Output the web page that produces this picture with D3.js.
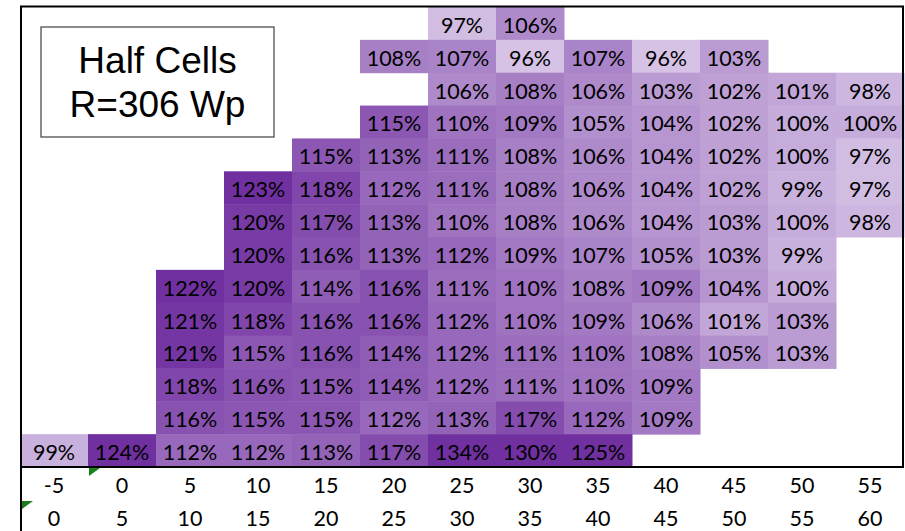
<!DOCTYPE html>
<html>
<head>
<meta charset="utf-8">
<script src="https://cdn.jsdelivr.net/npm/d3@7"></script>
<style>
  body { margin: 0; background: #fff; }
  .cell-label, .axis text { font-family: Lato, "Open Sans", sans-serif; font-size: 21.5px; fill: #000; }
  .title { font-family: "Liberation Sans", Arial, sans-serif; font-size: 37px; fill: #000; }
</style>
</head>
<body>
<div class="svg-container"></div>
<script>
// column bins (lower / upper bound)
const binLow = [-5, 0, 5, 10, 15, 20, 25, 30, 35, 40, 45, 50, 55];
const binHigh = [0, 5, 10, 15, 20, 25, 30, 35, 40, 45, 50, 55, 60];

// ratio in %, one array per row, top to bottom (null = empty cell)
const ratios = [
  [null, null, null, null, null, null, 97, 106, null, null, null, null, null],
  [null, null, null, null, null, 108, 107, 96, 107, 96, 103, null, null],
  [null, null, null, null, null, null, 106, 108, 106, 103, 102, 101, 98],
  [null, null, null, null, null, 115, 110, 109, 105, 104, 102, 100, 100],
  [null, null, null, null, 115, 113, 111, 108, 106, 104, 102, 100, 97],
  [null, null, null, 123, 118, 112, 111, 108, 106, 104, 102, 99, 97],
  [null, null, null, 120, 117, 113, 110, 108, 106, 104, 103, 100, 98],
  [null, null, null, 120, 116, 113, 112, 109, 107, 105, 103, 99, null],
  [null, null, 122, 120, 114, 116, 111, 110, 108, 109, 104, 100, null],
  [null, null, 121, 118, 116, 116, 112, 110, 109, 106, 101, 103, null],
  [null, null, 121, 115, 116, 114, 112, 111, 110, 108, 105, 103, null],
  [null, null, 118, 116, 115, 114, 112, 111, 110, 109, null, null, null],
  [null, null, 116, 115, 115, 112, 113, 117, 112, 109, null, null, null],
  [99, 124, 112, 112, 113, 117, 134, 130, 125, null, null, null, null]
];

const titleLines = ["Half Cells", "R=306 Wp"];

const width = 905, height = 531;
const gridLeft = 20, gridRight = 904, gridTop = 7, gridBottom = 467;

const svg = d3.select(".svg-container")
  .append("svg")
  .attr("width", width)
  .attr("height", height);

const xScale = d3.scaleBand()
  .domain(d3.range(binLow.length))
  .range([gridLeft, gridRight]);

const yScale = d3.scaleBand()
  .domain(d3.range(ratios.length))
  .range([gridTop, gridBottom]);

const colour = d3.scaleLinear()
  .domain([96, 122])
  .range(["#d5c2e5", "#7030a0"])
  .clamp(true);

// flatten the table into cells
const cells = [];
ratios.forEach((row, r) => row.forEach((v, c) => {
  if (v != null) cells.push({ r: r, c: c, v: v });
}));

svg.selectAll(".cell")
  .data(cells)
  .enter()
  .append("rect")
  .attr("class", "cell")
  .attr("x", d => xScale(d.c))
  .attr("y", d => yScale(d.r))
  .attr("width", xScale.bandwidth() + 0.5)
  .attr("height", yScale.bandwidth() + 0.5)
  .attr("fill", d => colour(d.v));

svg.selectAll(".cell-label")
  .data(cells)
  .enter()
  .append("text")
  .attr("class", "cell-label")
  .attr("x", d => xScale(d.c) + xScale.bandwidth() / 2)
  .attr("y", d => yScale(d.r) + yScale.bandwidth() - 7)
  .attr("text-anchor", "middle")
  .text(d => d.v + "%");

// two rows of bin labels under the grid
const axisLow = d3.axisBottom(xScale).tickSize(0).tickPadding(0)
  .tickFormat(i => binLow[i]);
const axisHigh = d3.axisBottom(xScale).tickSize(0).tickPadding(0)
  .tickFormat(i => binHigh[i]);

svg.append("g")
  .attr("class", "axis")
  .attr("transform", "translate(0,493)")
  .call(axisLow)
  .call(g => g.select(".domain").remove());

svg.append("g")
  .attr("class", "axis")
  .attr("transform", "translate(0,526)")
  .call(axisHigh)
  .call(g => g.select(".domain").remove());

svg.selectAll(".axis").attr("font-family", null).attr("font-size", null);
svg.selectAll(".axis text").attr("dy", 0);

// frame
svg.append("rect")
  .attr("x", 21)
  .attr("y", 6.5)
  .attr("width", 882)
  .attr("height", gridBottom - 6.5)
  .attr("fill", "none")
  .attr("stroke", "#000")
  .attr("stroke-width", 2);

svg.append("line")
  .attr("x1", 21).attr("x2", 21)
  .attr("y1", gridBottom).attr("y2", height)
  .attr("stroke", "#000")
  .attr("stroke-width", 2);

// little green error markers
const markers = [[xScale(1) + 1, gridBottom + 1], [gridLeft + 2, gridBottom + 34]];
svg.selectAll(".marker")
  .data(markers)
  .enter()
  .append("path")
  .attr("class", "marker")
  .attr("d", d => "M" + d[0] + "," + d[1] + "h11l-11,8z")
  .attr("fill", "#1a7f1a");

// title box
svg.append("rect")
  .attr("x", 41)
  .attr("y", 27)
  .attr("width", 233)
  .attr("height", 110)
  .attr("fill", "#fff")
  .attr("stroke", "#404040")
  .attr("stroke-width", 1.2);

svg.selectAll(".title")
  .data(titleLines)
  .enter()
  .append("text")
  .attr("class", "title")
  .attr("x", 157.5)
  .attr("y", (d, i) => 73 + i * 44)
  .attr("text-anchor", "middle")
  .text(d => d);
</script>
</body>
</html>
